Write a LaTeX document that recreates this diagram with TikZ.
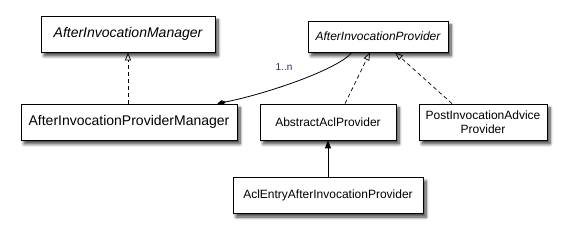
\documentclass[tikz,border=0pt]{standalone}
\usepackage{fontspec}
\setmainfont{Liberation Sans}
\usetikzlibrary{arrows.meta,shadows.blur}
\definecolor{lbl}{RGB}{35,45,80}
\tikzset{
  cls/.style={draw=black, line width=0.8pt, fill=white, align=center, inner sep=2pt,
    blur shadow={shadow xshift=3pt, shadow yshift=-4pt, shadow blur steps=8, shadow opacity=75, shadow blur radius=3pt}},
  big/.style={cls, font=\fontsize{14}{16}\selectfont},
  small/.style={cls, font=\fontsize{12}{13.5}\selectfont},
  realize/.style={dashed, dash pattern=on 4pt off 3pt, line width=0.7pt, -{Triangle[open,length=8pt,width=6pt]}},
  inherit/.style={line width=0.8pt, -{Triangle[length=8pt,width=6pt]}},
  aggr/.style={line width=0.8pt, {Diamond[length=9pt,width=5pt]}-},
}
\begin{document}
\begin{tikzpicture}[x=1pt,y=-1pt]
\useasboundingbox (0,0) rectangle (567,237);
\node[big, minimum width=174pt, minimum height=36pt] (aim) at (128,34) {\itshape AfterInvocationManager};
\node[big, minimum width=216pt, minimum height=36pt] (aipm) at (129,122) {AfterInvocationProviderManager};
\node[small, minimum width=140pt, minimum height=31pt] (aip) at (378,36.5) {\itshape AfterInvocationProvider};
\node[small, minimum width=136pt, minimum height=36pt] (abs) at (328,122) {AbstractAclProvider};
\node[small, minimum width=128pt, minimum height=36pt] (post) at (483,122) {PostInvocationAdvice\\Provider};
\node[small, minimum width=190pt, minimum height=36pt] (acl) at (328,195) {AclEntryAfterInvocationProvider};

\draw[realize] (aipm.north -| aim.south) -- (aim.south);
\draw[realize] ([xshift=17pt]abs.north) -- ([xshift=-8pt]aip.south);
\draw[realize] ([xshift=-31pt]post.north) -- ([xshift=17pt]aip.south);
\draw[inherit] (acl.north) -- (abs.south);
\coordinate (dia) at ([xshift=-20pt]aipm.north east);
\coordinate (top) at ([xshift=-26pt]aip.south);
\draw[aggr] (dia) .. controls +(50,-10) and +(-14,17) .. (top);
\node[font=\fontsize{10}{12}\selectfont, text=lbl] (mult) at (284,67) {1..n};
\end{tikzpicture}
\end{document}
